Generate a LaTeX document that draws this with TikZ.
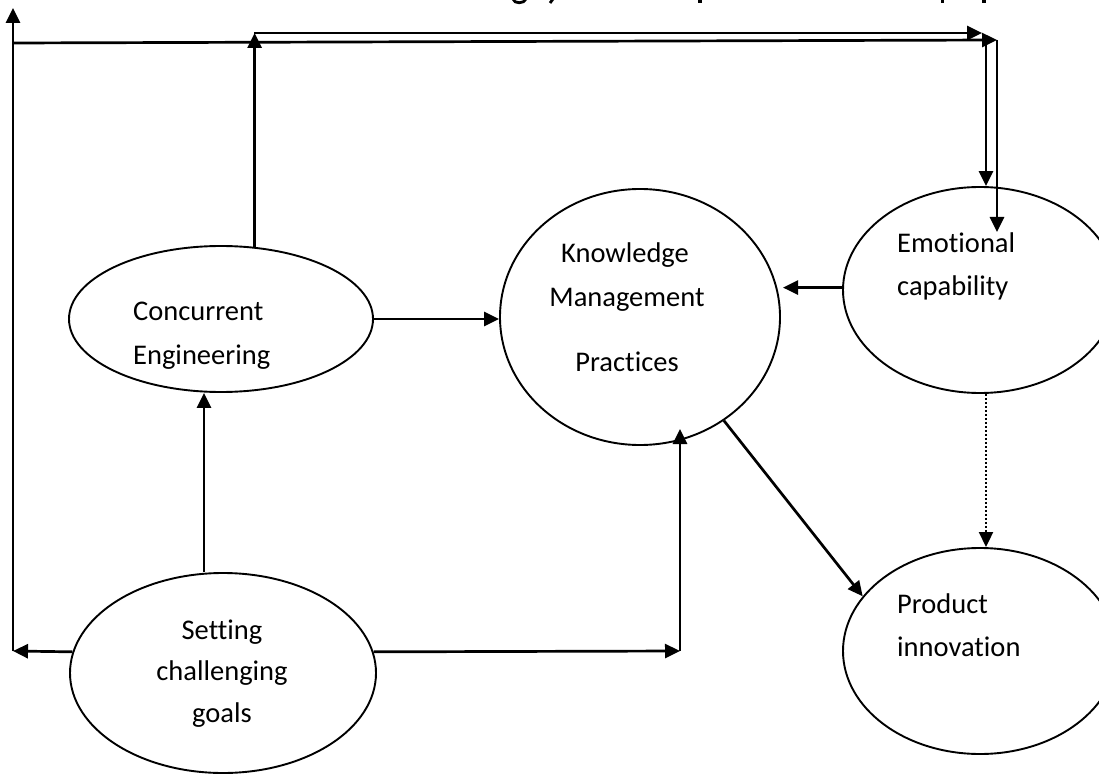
\documentclass[tikz,border=0pt]{standalone}
\usepackage{fontspec}
\setmainfont{Carlito}[Ligatures=NoCommon]
\usetikzlibrary{arrows.meta,shapes.geometric}
\begin{document}
\begin{tikzpicture}[x=1pt,y=-1pt,
  bubble/.style={draw,line width=1.9pt,ellipse,inner sep=0pt},
  conn/.style={line width=2.7pt,-{Triangle[length=15pt,width=14pt]}},
  dotconn/.style={line width=2pt,dash pattern=on 2pt off 2pt,-{Triangle[length=15pt,width=14pt]}},
  lbl/.style={font=\fontsize{28.5}{34}\selectfont,inner sep=0pt},
]
\useasboundingbox (0,0) rectangle (1099,775);
\clip (0,0) rectangle (1099,775);

% tails of the heading glyphs cut by the top edge
\draw[line width=2.8pt] (513,-1) .. controls (514,4) and (524,4) .. (526,-1);
\draw[line width=2.8pt] (553,-1) -- (550,3);
\fill (698,-1) rectangle (702,3);
\fill (941,-1) rectangle (944,3);
\fill (982,-1) rectangle (986,3);

% constructs
\node[bubble,minimum width=304pt,minimum height=146pt] (ce) at (221,319) {};
\node[bubble,minimum width=280pt,minimum height=256pt] (km) at (640,317) {};
\node[bubble,minimum width=274pt,minimum height=206pt] (emo) at (980,290) {};
\node[bubble,minimum width=274pt,minimum height=206pt] (prod) at (980,651) {};
\node[bubble,minimum width=306pt,minimum height=200pt] (goal) at (223,673) {};

% labels
\node[lbl,anchor=base west] (ce1) at (133,320) {Concurrent};
\node[lbl,anchor=base west] (ce2) at (133,364) {Engineering};
\node[lbl,anchor=base] (km1) at (625,263) {Knowledge};
\node[lbl,anchor=base] (km2) at (627,306) {Management};
\node[lbl,anchor=base] (km3) at (627,371) {Practices};
\node[lbl,anchor=base west] (emo1) at (897,253) {Emotional};
\node[lbl,anchor=base west] (emo2) at (897,295) {capability};
\node[lbl,anchor=base west] (prod1) at (897,613) {Product};
\node[lbl,anchor=base west] (prod2) at (897,656) {innovation};
\node[lbl,anchor=base] (g1) at (222,639) {Setting};
\node[lbl,anchor=base] (g2) at (222,680) {challenging};
\node[lbl,anchor=base] (g3) at (222,722) {goals};

% bends of the long connectors
\coordinate (lcorner) at (13,651);
\coordinate (ltop) at (13,8);
\coordinate (lrun) at (13,43);
\coordinate (rrun) at (997,40);
\coordinate (rdrop) at (997,232);
\coordinate (cetop) at (254,33);
\coordinate (ceend) at (982,33);
\coordinate (edrop) at (986,40);
\coordinate (gcol) at (204,0);
\coordinate (kcorner) at (680,651);
\coordinate (ktip) at (680,429);
\coordinate (etip) at (783,0);

% outer loop from the goals
\draw[conn] (goal.172) -- (lcorner);
\draw[conn] (lcorner) -- (ltop);
\draw[conn] (lrun) -- (rrun);
\draw[conn] (rrun) -- (rdrop);

% loop from concurrent engineering
\draw[conn] (ce.65) -- (ce.65 |- cetop);
\draw[conn] (cetop) -- (ceend);
\draw[conn] (edrop) -- (edrop |- emo.north);

% direct links
\draw[conn] (gcol |- goal.north) -- (gcol |- ce.south);
\draw[conn] (goal.8) -- (kcorner);
\draw[conn] (kcorner) -- (ktip);
\draw[conn] (ce.east) -- (ce.east -| km.west);
\draw[conn] (emo.179) -- (emo.179 -| etip);
\draw[conn] (km.-51.5) -- (prod.155);
\draw[dotconn] (edrop |- emo.south) -- (edrop |- prod.north);
\end{tikzpicture}
\end{document}
